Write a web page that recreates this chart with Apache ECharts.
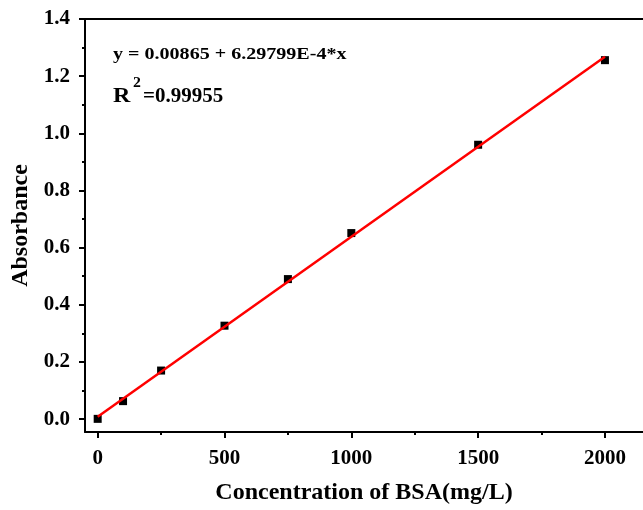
<!DOCTYPE html>
<html><head><meta charset="utf-8">
<script src="https://cdn.jsdelivr.net/npm/echarts@6/dist/echarts.min.js"></script>
<style>html,body{margin:0;padding:0;background:#fff}#c{width:643px;height:510px}</style>
</head><body><div id="c"></div>
<script>
const concentration = [0, 100, 250, 500, 750, 1000, 1500, 2000];
const absorbance = [0.001, 0.063, 0.170, 0.327, 0.490, 0.651, 0.960, 1.256];
const fitX = [0, 2000];
const fitY = [0.00865, 1.26825];
const xTicks = [0, 500, 1000, 1500, 2000];
const xMinor = [250, 750, 1250, 1750];
const yTicks = [0, 0.2, 0.4, 0.6, 0.8, 1.0, 1.2, 1.4];
const yMinor = [0.1, 0.3, 0.5, 0.7, 0.9, 1.1, 1.3];
const equationText = 'y = 0.00865 + 6.29799E-4*x';
const r2Value = '=0.99955';

const FONT = 'Liberation Serif';
const chart = echarts.init(document.getElementById('c'), null, {renderer: 'canvas'});
const lblStyle = {fontFamily: FONT, fontWeight: 'bold', fontSize: 21, color: '#000'};
const X_MIN = -50, X_MAX = 2150, Y_MIN = -0.045, Y_MAX = 1.4;
const baseX = {type: 'value', min: X_MIN, max: X_MAX, splitLine: {show: false}};
const baseY = {type: 'value', min: Y_MIN, max: Y_MAX, splitLine: {show: false}};
const txt = (t, size) => ({text: t, fontFamily: FONT, fontWeight: 'bold', fontSize: size, fill: '#000'});
chart.setOption({
  animation: false,
  backgroundColor: '#fff',
  grid: {left: 85, right: -4, top: 19, bottom: 78, containLabel: false},
  xAxis: [
    Object.assign({}, baseX, {
      position: 'bottom',
      name: 'Concentration of BSA(mg/L)', nameLocation: 'middle', nameGap: 49,
      nameTextStyle: {fontFamily: FONT, fontWeight: 'bold', fontSize: 24, color: '#000'},
      axisLine: {show: true, onZero: false, lineStyle: {color: '#000', width: 2}},
      axisTick: {show: true, inside: false, length: 6, lineStyle: {color: '#000', width: 2}, customValues: xTicks},
      axisLabel: Object.assign({margin: 16, customValues: xTicks, formatter: v => String(v)}, lblStyle)
    }),
    Object.assign({}, baseX, {
      position: 'bottom',
      axisLine: {show: false, onZero: false},
      axisTick: {show: true, inside: false, length: 3, lineStyle: {color: '#000', width: 2}, customValues: xMinor},
      axisLabel: {show: false}
    }),
    Object.assign({}, baseX, {
      position: 'top',
      axisLine: {show: true, onZero: false, lineStyle: {color: '#000', width: 2}},
      axisTick: {show: false}, axisLabel: {show: false}
    })
  ],
  yAxis: [
    Object.assign({}, baseY, {
      position: 'left',
      name: 'Absorbance', nameLocation: 'middle', nameGap: 45,
      nameTextStyle: {fontFamily: FONT, fontWeight: 'bold', fontSize: 24, color: '#000'},
      axisLine: {show: true, onZero: false, lineStyle: {color: '#000', width: 2}},
      axisTick: {show: true, inside: false, length: 6, lineStyle: {color: '#000', width: 2}, customValues: yTicks},
      axisLabel: Object.assign({margin: 15, customValues: yTicks, formatter: v => v.toFixed(1)}, lblStyle)
    }),
    Object.assign({}, baseY, {
      position: 'left',
      axisLine: {show: false, onZero: false},
      axisTick: {show: true, inside: false, length: 3, lineStyle: {color: '#000', width: 2}, customValues: yMinor},
      axisLabel: {show: false}
    })
  ],
  series: [
    {
      type: 'scatter', xAxisIndex: 0, yAxisIndex: 0,
      data: concentration.map((c, i) => [c, absorbance[i]]),
      symbol: 'rect', symbolSize: 8, itemStyle: {color: '#000', opacity: 1}, z: 2
    },
    {
      type: 'line', xAxisIndex: 0, yAxisIndex: 0,
      data: fitX.map((x, i) => [x, fitY[i]]),
      showSymbol: false, symbol: 'none',
      lineStyle: {color: '#ff0000', width: 2.5}, z: 3
    }
  ],
  graphic: [
    {type: 'group', left: 113, top: 46, children: [
      {type: 'text', x: 0, y: 0, scaleX: 1.18, style: txt(equationText, 17)},
      {type: 'text', x: 0, y: 41, scaleX: 1.2, style: txt('R', 20)},
      {type: 'text', x: 20, y: 30, scaleX: 1.05, style: txt('2', 15)},
      {type: 'text', x: 30, y: 41, scaleX: 1.05, style: txt(r2Value, 20)}
    ]}
  ]
});
</script></body></html>
